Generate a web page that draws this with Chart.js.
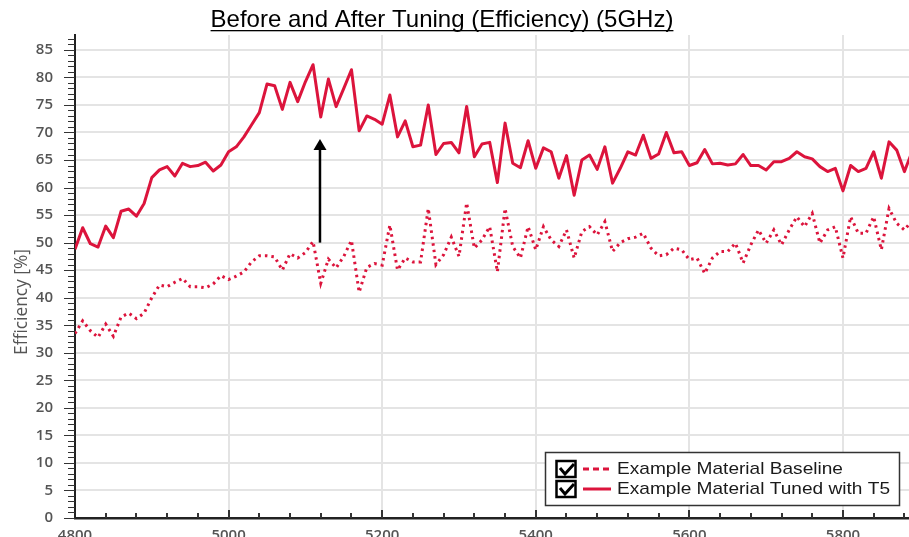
<!DOCTYPE html>
<html>
<head>
<meta charset="utf-8">
<script src="https://cdn.jsdelivr.net/npm/chart.js@4.4.1/dist/chart.umd.min.js"></script>
<style>
  html, body { margin: 0; padding: 0; background: #fff; overflow: hidden; }
  canvas { display: block; }
</style>
</head>
<body>
<canvas id="chart" width="909" height="537"></canvas>
<script>
// frequency in MHz
const freqs = [
  4800, 4810, 4820, 4830, 4840, 4850, 4860, 4870, 4880, 4890,
  4900, 4910, 4920, 4930, 4940, 4950, 4960, 4970, 4980, 4990,
  5000, 5010, 5020, 5030, 5040, 5050, 5060, 5070, 5080, 5090,
  5100, 5110, 5120, 5130, 5140, 5150, 5160, 5170, 5180, 5190,
  5200, 5210, 5220, 5230, 5240, 5250, 5260, 5270, 5280, 5290,
  5300, 5310, 5320, 5330, 5340, 5350, 5360, 5370, 5380, 5390,
  5400, 5410, 5420, 5430, 5440, 5450, 5460, 5470, 5480, 5490,
  5500, 5510, 5520, 5530, 5540, 5550, 5560, 5570, 5580, 5590,
  5600, 5610, 5620, 5630, 5640, 5650, 5660, 5670, 5680, 5690,
  5700, 5710, 5720, 5730, 5740, 5750, 5760, 5770, 5780, 5790,
  5800, 5810, 5820, 5830, 5840, 5850, 5860, 5870, 5880, 5890
];

// efficiency [%], baseline material
const baseline = [
  33.5, 35.8, 34.0, 32.8, 35.2, 33.0, 36.5, 37.2, 36.2, 37.2,
  40.0, 42.3, 42.0, 42.8, 43.5, 42.0, 42.0, 41.8, 42.5, 44.0,
  43.3, 43.9, 44.7, 46.5, 47.6, 47.6, 47.4, 45.0, 48.0, 47.2,
  48.2, 50.2, 42.6, 47.0, 45.4, 47.5, 50.4, 41.0, 45.5, 46.2,
  45.9, 53.2, 45.0, 47.2, 46.5, 46.5, 56.2, 46.0, 47.8, 51.0,
  47.5, 57.2, 49.0, 50.5, 52.9, 44.7, 56.2, 49.3, 47.2, 52.9,
  48.7, 52.9, 50.5, 49.3, 52.3, 47.2, 52.0, 52.9, 51.4, 53.8,
  48.4, 50.0, 50.7, 51.0, 51.7, 49.0, 47.6, 47.8, 49.0, 48.7,
  46.9, 47.2, 44.4, 47.2, 48.4, 48.4, 49.9, 46.3, 49.6, 52.3,
  49.9, 52.3, 49.6, 52.3, 54.7, 52.9, 55.3, 49.9, 52.3, 52.9,
  47.2, 54.7, 51.7, 51.7, 54.7, 48.7, 56.2, 53.5, 52.3, 54.0
];

// efficiency [%], tuned with T5
const tuned = [
  48.8, 52.7, 49.8, 49.2, 53.0, 50.9, 55.7, 56.1, 54.8, 57.1,
  61.8, 63.2, 63.8, 62.1, 64.4, 63.8, 64.0, 64.6, 63.0, 64.1,
  66.5, 67.4, 69.2, 71.4, 73.6, 78.8, 78.5, 74.2, 79.1, 75.6,
  79.2, 82.3, 72.8, 79.7, 74.7, 78.0, 81.4, 70.3, 73.0, 72.4,
  71.5, 76.8, 69.2, 72.1, 67.4, 67.7, 75.0, 66.0, 68.0, 68.2,
  66.3, 74.7, 65.6, 67.9, 68.2, 60.9, 71.7, 64.4, 63.6, 68.5,
  63.5, 67.2, 66.5, 61.7, 65.8, 58.6, 65.0, 65.9, 63.3, 67.4,
  60.8, 63.5, 66.5, 65.9, 69.5, 65.3, 66.1, 70.0, 66.3, 66.5,
  64.0, 64.5, 66.9, 64.3, 64.4, 64.1, 64.3, 66.0, 64.0, 64.0,
  63.2, 64.7, 64.7, 65.3, 66.5, 65.6, 65.2, 63.8, 62.9, 63.5,
  59.4, 64.0, 62.9, 63.5, 66.5, 61.7, 68.3, 66.8, 62.9, 66.5
];

const seriesNames = ['Example Material Baseline', 'Example Material Tuned with T5'];
const title = 'Before and After Tuning (Efficiency) (5GHz)';
const yTitle = 'Efficiency [%]';
// arrow: at 5119 MHz, from 50 % up to 68.8 %
const arrow = { x: 5119, from: 50.0, to: 68.8 };

const red = '#dc143c';

const toPoints = (vals) => freqs.map((f, i) => ({ x: f, y: vals[i] }));

const decor = {
  id: 'decor',
  beforeDraw(chart) {
    const ctx = chart.ctx;
    ctx.save();
    ctx.fillStyle = '#fff';
    ctx.fillRect(0, 0, chart.width, chart.height);
    ctx.restore();
  },
  afterDraw(chart) {
    const { ctx, chartArea: a, scales: { x, y } } = chart;
    ctx.save();

    // minor / major ticks on y axis
    ctx.strokeStyle = '#333';
    ctx.lineWidth = 1;
    ctx.beginPath();
    for (let v = 0; v <= 87; v++) {
      const py = Math.round(y.getPixelForValue(v)) + 0.5;
      const len = v % 5 === 0 ? 11 : 7;
      ctx.moveTo(a.left - len, py);
      ctx.lineTo(a.left, py);
    }
    ctx.stroke();

    // ticks on x axis (inside)
    ctx.lineWidth = 2;
    ctx.beginPath();
    for (let f = 4840; f <= 5880; f += 40) {
      const px = Math.round(x.getPixelForValue(f));
      const len = (f - 4800) % 200 === 0 ? 8 : 5;
      ctx.moveTo(px, a.bottom);
      ctx.lineTo(px, a.bottom - len);
    }
    ctx.stroke();

    // arrow
    const ax = x.getPixelForValue(arrow.x);
    const y0 = y.getPixelForValue(arrow.from);
    const y1 = y.getPixelForValue(arrow.to);
    ctx.strokeStyle = '#000';
    ctx.fillStyle = '#000';
    ctx.lineWidth = 2.5;
    ctx.beginPath();
    ctx.moveTo(ax, y0);
    ctx.lineTo(ax, y1 + 10);
    ctx.stroke();
    ctx.beginPath();
    ctx.moveTo(ax, y1);
    ctx.lineTo(ax - 6.5, y1 + 11);
    ctx.lineTo(ax + 6.5, y1 + 11);
    ctx.closePath();
    ctx.fill();

    // title, underlined
    ctx.font = '24px "Liberation Sans", Arial, sans-serif';
    ctx.textAlign = 'center';
    ctx.textBaseline = 'alphabetic';
    ctx.fillStyle = '#000';
    const tw = ctx.measureText(title).width;
    ctx.fillText(title, 442, 27);
    ctx.fillRect(442 - tw / 2, 30, tw, 1.3);

    // y axis title
    ctx.save();
    ctx.translate(22, 302);
    ctx.rotate(-Math.PI / 2);
    ctx.font = '19px "Open Sans", sans-serif';
    const yw = ctx.measureText(yTitle).width;
    ctx.scale(106 / yw, 1);
    ctx.fillStyle = '#555';
    ctx.textAlign = 'center';
    ctx.textBaseline = 'middle';
    ctx.fillText(yTitle, 0, 0);
    ctx.restore();

    // legend
    ctx.fillStyle = '#fff';
    ctx.fillRect(545.5, 452.5, 354, 53);
    ctx.strokeStyle = '#333';
    ctx.lineWidth = 1.5;
    ctx.strokeRect(545.5, 452.5, 354, 53);
    const rows = [469, 489];
    rows.forEach((ry, i) => {
      // checkbox
      ctx.strokeStyle = '#000';
      ctx.lineWidth = 2.5;
      ctx.setLineDash([]);
      ctx.strokeRect(556.5, ry - 8, 19, 16);
      ctx.lineWidth = 3;
      ctx.beginPath();
      ctx.moveTo(560, ry - 1);
      ctx.lineTo(565, ry + 5);
      ctx.lineTo(574, ry - 5);
      ctx.stroke();
      // line sample
      ctx.strokeStyle = red;
      ctx.lineWidth = 3;
      ctx.setLineDash(i === 0 ? [6, 4] : []);
      ctx.beginPath();
      ctx.moveTo(583, ry);
      ctx.lineTo(611, ry);
      ctx.stroke();
      ctx.setLineDash([]);
    });
    ctx.font = '17px "Liberation Sans", Arial, sans-serif';
    const lw = ctx.measureText(seriesNames[1]).width;
    const sx = 273 / lw;
    ctx.fillStyle = '#1a1a1a';
    ctx.textAlign = 'left';
    ctx.textBaseline = 'middle';
    rows.forEach((ry, i) => {
      ctx.save();
      ctx.translate(617, ry);
      ctx.scale(sx, 1);
      ctx.fillText(seriesNames[i], 0, 0);
      ctx.restore();
    });

    ctx.restore();
  }
};

new Chart(document.getElementById('chart').getContext('2d'), {
  type: 'line',
  data: {
    datasets: [
      {
        label: seriesNames[0],
        data: toPoints(baseline),
        borderColor: red,
        borderWidth: 3,
        borderDash: [2.5, 4],
        pointRadius: 0,
        tension: 0,
        fill: false
      },
      {
        label: seriesNames[1],
        data: toPoints(tuned),
        borderColor: red,
        borderWidth: 3,
        borderJoinStyle: 'round',
        pointRadius: 0,
        tension: 0,
        fill: false
      }
    ]
  },
  options: {
    responsive: false,
    animation: false,
    devicePixelRatio: 1,
    layout: { padding: { top: 35, left: 0, right: 0, bottom: 0 } },
    plugins: {
      legend: { display: false },
      title: { display: false },
      tooltip: { enabled: false }
    },
    scales: {
      x: {
        type: 'linear',
        min: 4800,
        max: 5886,
        afterFit: (s) => { s.height = 19; s.paddingLeft = 0; s.paddingRight = 0; },
        ticks: {
          stepSize: 200,
          includeBounds: false,
          padding: 9,
          color: '#555',
          font: { family: '"Open Sans", sans-serif', size: 15, weight: '600' },
          callback: (v) => String(v)
        },
        grid: { drawTicks: false, color: '#e4e4e4', lineWidth: 2 },
        border: { color: '#222', width: 2.5 }
      },
      y: {
        min: 0,
        max: 87.7,
        afterFit: (s) => { s.width = 75; s.paddingTop = 0; s.paddingBottom = 0; },
        ticks: {
          stepSize: 5,
          includeBounds: false,
          padding: 22,
          color: '#555',
          font: { family: '"Open Sans", sans-serif', size: 15, weight: '600' }
        },
        grid: { drawTicks: false, color: '#e4e4e4', lineWidth: 2 },
        border: { color: '#222', width: 2 }
      }
    }
  },
  plugins: [decor]
});
</script>
</body>
</html>
